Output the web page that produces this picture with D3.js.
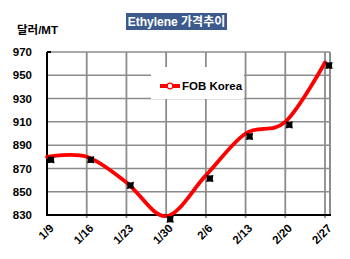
<!DOCTYPE html>
<html>
<head>
<meta charset="utf-8">
<script src="https://cdn.jsdelivr.net/npm/d3@7"></script>
<style>
  body { margin: 0; background: #fff; }
  text { font-family: "Liberation Sans", "Noto Sans CJK KR", sans-serif; font-weight: bold; }
</style>
</head>
<body>
<svg id="chart" width="350" height="259"></svg>
<script>
// chart data
const dates = ["1/9", "1/16", "1/23", "1/30", "2/6", "2/13", "2/20", "2/27"];
const fobKorea = [880, 880, 858, 829, 864, 900, 910, 961];
const yTicks = [830, 850, 870, 890, 910, 930, 950, 970];
const title = "Ethylene 가격추이";
const unitLabel = "달러/MT";
const seriesName = "FOB Korea";

const svg = d3.select("#chart");
const plotLeft = 47, plotRight = 330, plotTop = 52, plotBottom = 215;

const x = d3.scalePoint().domain(dates).range([plotLeft, 325]);
const y = d3.scaleLinear().domain([830, 970]).range([plotBottom, plotTop]);

// gridlines
const grid = svg.append("g").attr("stroke", "#8c8c8c");
grid.selectAll(".hg").data(yTicks.slice(1)).enter().append("line")
    .attr("x1", plotLeft).attr("x2", plotRight)
    .attr("y1", d => y(d)).attr("y2", d => y(d))
    .attr("stroke-width", 1.5);
grid.selectAll(".vg").data(dates.slice(1)).enter().append("line")
    .attr("x1", d => x(d)).attr("x2", d => x(d))
    .attr("y1", plotTop).attr("y2", plotBottom + 3)
    .attr("stroke-width", 1.8);
grid.append("line").attr("x1", plotRight).attr("x2", plotRight).attr("y1", plotTop).attr("y2", plotBottom)
    .attr("stroke-width", 2);

// axes
svg.append("line").attr("x1", plotLeft).attr("x2", plotLeft).attr("y1", plotTop).attr("y2", plotBottom)
    .attr("stroke", "#000").attr("stroke-width", 2);
svg.append("line").attr("x1", plotLeft - 1).attr("x2", plotRight + 1).attr("y1", plotBottom).attr("y2", plotBottom)
    .attr("stroke", "#000").attr("stroke-width", 2);
svg.append("line").attr("x1", plotLeft).attr("x2", plotLeft + 4).attr("y1", plotTop).attr("y2", plotTop)
    .attr("stroke", "#000").attr("stroke-width", 2);

const yAxis = d3.axisLeft(y).tickValues(yTicks).tickSize(0).tickPadding(15);
const ya = svg.append("g").attr("transform", "translate(" + plotLeft + ",0)").call(yAxis);
ya.select(".domain").remove();
ya.selectAll("text").attr("font-size", 11.5).attr("fill", "#000")
    .style("font-family", "Liberation Sans").style("font-weight", "bold");

const xAxis = d3.axisBottom(x).tickSize(0).tickPadding(0);
const xa = svg.append("g").attr("transform", "translate(0," + plotBottom + ")").call(xAxis);
xa.select(".domain").remove();
xa.selectAll("text")
    .attr("font-size", 11.5).attr("fill", "#000")
    .style("font-family", "Liberation Sans").style("font-weight", "bold")
    .attr("text-anchor", "end").attr("dy", null)
    .attr("transform", "translate(7,14) rotate(-45)");

// legend box (covers gridlines)
svg.append("rect").attr("x", 151).attr("y", 67).attr("width", 93).attr("height", 32).attr("fill", "#fff");
svg.append("line").attr("x1", 160).attr("x2", 180).attr("y1", 86).attr("y2", 86)
    .attr("stroke", "#ff0000").attr("stroke-width", 4);
svg.append("circle").attr("cx", 170).attr("cy", 86).attr("r", 2.8)
    .attr("fill", "#fff").attr("stroke", "#ff0000").attr("stroke-width", 1.2);
svg.append("text").attr("x", 182).attr("y", 90).attr("font-size", 11.5).attr("fill", "#000")
    .text(seriesName);

// series line
const line = d3.line().x((d, i) => x(dates[i])).y(d => y(d)).curve(d3.curveCardinal.tension(0));
svg.append("path").datum(fobKorea).attr("d", line)
    .attr("fill", "none").attr("stroke", "#ff0000").attr("stroke-width", 3.8)
    .attr("stroke-linecap", "round");

// black markers: four-point star, slightly offset like a shadow
const star4 = {
    draw(context, size) {
        const r = Math.sqrt(size) / 1.6, k = r * 0.42;
        context.moveTo(0, -r);
        context.lineTo(k, -k);
        context.lineTo(r, 0);
        context.lineTo(k, k);
        context.lineTo(0, r);
        context.lineTo(-k, k);
        context.lineTo(-r, 0);
        context.lineTo(-k, -k);
        context.closePath();
    }
};
const marker = d3.symbol().type(star4).size(64);
svg.selectAll(".mk").data(fobKorea).enter().append("path")
    .attr("d", marker)
    .attr("transform", (d, i) => "translate(" + (x(dates[i]) + 4) + "," + (y(d) + 3) + ") rotate(45)")
    .attr("fill", "#000");

// title
svg.append("rect").attr("x", 126).attr("y", 13).attr("width", 101).attr("height", 17).attr("fill", "#3c5a8c");
svg.append("text").attr("x", 176.5).attr("y", 26).attr("text-anchor", "middle")
    .attr("font-size", 12).attr("fill", "#fff").text(title);

svg.append("text").attr("x", 17).attr("y", 34).attr("font-size", 11.5).attr("fill", "#000").text(unitLabel);
</script>
</body>
</html>
